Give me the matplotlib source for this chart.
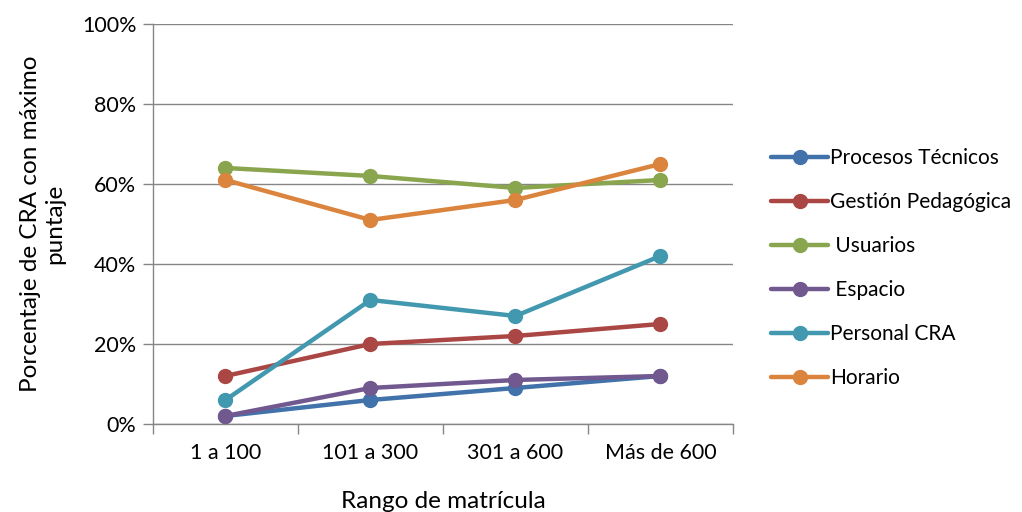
import numpy as np
import matplotlib.pyplot as plt

plt.rcParams['font.family'] = ['Lato', 'DejaVu Sans']

rangos = ["1 a 100", "101 a 300", "301 a 600", "Más de 600"]
procesos_tecnicos = [2, 6, 9, 12]
gestion_pedagogica = [12, 20, 22, 25]
usuarios = [64, 62, 59, 61]
espacio = [2, 9, 11, 12]
personal_cra = [6, 31, 27, 42]
horario = [61, 51, 56, 65]

series = [
    ("Procesos Técnicos", procesos_tecnicos, "#4272AA"),
    ("Gestión Pedagógica", gestion_pedagogica, "#AA4643"),
    (" Usuarios", usuarios, "#89A54E"),
    (" Espacio", espacio, "#71588F"),
    ("Personal CRA", personal_cra, "#4198AF"),
    ("Horario", horario, "#DB843D"),
]

fig = plt.figure(figsize=(10.22, 5.12), dpi=100)
ax = fig.add_axes([0.1497, 0.1719, 0.5675, 0.7813])

x = np.arange(len(rangos))
for name, vals, col in series:
    ax.plot(x, vals, color=col, lw=3.2, marker='o', ms=10,
            solid_capstyle='round', label=name, zorder=3)

ax.set_xlim(-0.5, len(rangos) - 0.5)
ax.set_ylim(0, 100)
ax.set_yticks(range(0, 101, 20))
ax.set_yticklabels(["{}%".format(v) for v in range(0, 101, 20)])
ax.set_xticks(x)
ax.set_xticklabels(rangos)
ax.set_xticks(np.arange(-0.5, len(rangos)), minor=True)
ax.tick_params(axis='x', which='major', length=0, pad=14, labelsize=15.5)
ax.tick_params(axis='x', which='minor', length=7, color='#868686', width=1)
ax.tick_params(axis='y', length=7, color='#868686', width=1, pad=5, labelsize=15.5)

ax.grid(axis='y', color='#868686', lw=1)
ax.set_axisbelow(True)
for s in ['top', 'right']:
    ax.spines[s].set_visible(False)
for s in ['left', 'bottom']:
    ax.spines[s].set_color('#868686')
    ax.spines[s].set_linewidth(1)

ax.set_xlabel("Rango de matrícula", fontsize=17.5, labelpad=20)
ax.set_ylabel("Porcentaje de CRA con máximo\npuntaje", fontsize=17.5, labelpad=12)

ax.legend(loc='center left', bbox_to_anchor=(1.052, 0.39), frameon=False,
          fontsize=15, handlelength=2.7, handletextpad=0.1, labelspacing=1.15,
          borderaxespad=0)

fig.savefig("out.png", dpi=100)
